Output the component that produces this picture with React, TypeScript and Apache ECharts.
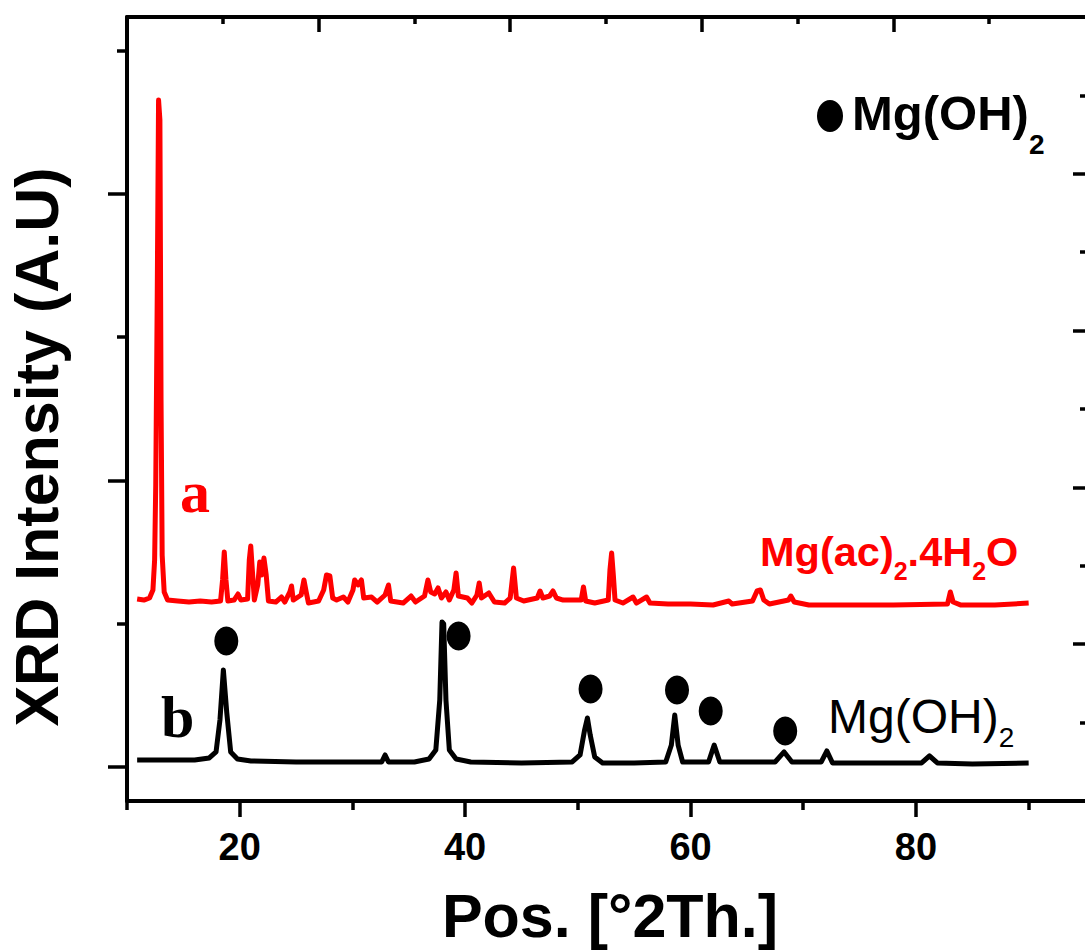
import React, { useEffect, useRef } from "react";
import * as echarts from "echarts";

// ---------- data ----------
const xTicksMajor = [20, 40, 60, 80];
const xTicksMinor = [10, 30, 50, 70, 90];
const yTicksMajor = [0, 2000, 4000];
const yTicksMinor = [1000, 3000, 5000];
const frameTicksMajor = [2, 4, 6, 8];
const frameTicksMinor = [1, 3, 5, 7, 9];

// a : Mg(ac)2.4H2O  [2theta, intensity]
const redPattern: [number, number][] = [
  [10.9, 1172], [11.5, 1165], [12.0, 1179], [12.3, 1235], [12.45, 1444], [12.55, 1968], [12.68, 3258],
  [12.8, 4654], [12.92, 4514], [13.02, 2561], [13.12, 1479], [13.3, 1221], [13.6, 1165], [14.5, 1158],
  [15.5, 1151], [16.5, 1158], [17.5, 1151], [18.3, 1158], [18.48, 1305], [18.63, 1500], [18.78, 1305],
  [18.95, 1158], [19.5, 1165], [19.85, 1207], [20.1, 1165], [20.7, 1172], [20.85, 1444], [20.98, 1542],
  [21.12, 1374], [21.3, 1165], [21.6, 1270], [21.78, 1430], [21.95, 1340], [22.15, 1458], [22.35, 1340],
  [22.55, 1158], [23.2, 1151], [23.7, 1186], [24.0, 1151], [24.45, 1221], [24.6, 1263], [24.75, 1165],
  [25.45, 1200], [25.7, 1305], [25.9, 1221], [26.1, 1144], [27.0, 1158], [27.45, 1235], [27.7, 1340],
  [28.0, 1333], [28.25, 1179], [28.6, 1165], [29.2, 1186], [29.6, 1151], [30.05, 1235], [30.2, 1305],
  [30.5, 1270], [30.8, 1305], [31.0, 1179], [31.7, 1186], [32.2, 1151], [32.9, 1200], [33.2, 1270],
  [33.4, 1158], [34.5, 1144], [35.2, 1193], [35.6, 1151], [36.4, 1193], [36.7, 1305], [36.95, 1221],
  [37.3, 1207], [37.6, 1249], [37.9, 1179], [38.3, 1221], [38.6, 1165], [39.0, 1235], [39.2, 1354],
  [39.4, 1193], [40.2, 1179], [40.6, 1144], [41.05, 1200], [41.25, 1284], [41.45, 1179], [42.1, 1214],
  [42.6, 1151], [43.5, 1144], [44.0, 1179], [44.3, 1388], [44.55, 1179], [45.2, 1158], [46.4, 1179],
  [46.65, 1228], [46.9, 1179], [47.5, 1193], [47.8, 1228], [48.1, 1179], [48.7, 1165], [50.3, 1165],
  [50.5, 1256], [50.7, 1158], [51.5, 1144], [52.7, 1165], [52.85, 1374], [53.0, 1493], [53.15, 1340],
  [53.3, 1165], [54.0, 1144], [54.9, 1186], [55.2, 1144], [56.1, 1186], [56.4, 1144], [58, 1137],
  [60, 1137], [62, 1130], [63.4, 1158], [63.7, 1137], [65.5, 1158], [65.9, 1228], [66.2, 1235],
  [66.5, 1165], [67, 1137], [68.7, 1165], [68.9, 1193], [69.2, 1151], [70.5, 1130], [74, 1130],
  [78, 1130], [82.8, 1137], [83.05, 1221], [83.3, 1151], [84, 1130], [87, 1130], [90, 1144],
];

// b : Mg(OH)2
const blackPattern: [number, number][] = [
  [10.9, 49], [13, 49], [16, 49], [17.3, 63], [17.9, 105], [18.25, 330], [18.55, 677], [18.85, 380],
  [19.2, 105], [19.8, 56], [21, 42], [25, 35], [30, 35], [32.6, 35], [32.9, 84], [33.2, 35], [35.5, 35],
  [36.8, 56], [37.4, 119], [37.75, 467], [37.95, 1012], [38.1, 998], [38.3, 467], [38.6, 119], [39.2, 56],
  [40.5, 35], [45, 28], [49.5, 35], [50.2, 84], [50.6, 258], [50.85, 342], [51.1, 223], [51.5, 70],
  [52.2, 28], [55, 28], [57.8, 35], [58.3, 153], [58.6, 363], [58.9, 153], [59.3, 35], [61.6, 35],
  [62.1, 153], [62.6, 35], [67.5, 35], [68.3, 105], [69.0, 35], [71.6, 35], [72.1, 112], [72.6, 28],
  [80.5, 28], [81.2, 77], [81.9, 28], [85, 21], [90, 28],
];

// filled circles marking the Mg(OH)2 reflections
const peakMarkers: [number, number][] = [
  [18.81, 879], [39.42, 914], [51.13, 544], [58.8, 537], [61.79, 391], [68.4, 251],
];

const SANS = '"Liberation Sans", Arial, Helvetica, sans-serif';
const NARROW = '"Liberation Sans Narrow", "Arial Narrow", "Liberation Sans", Arial, sans-serif';
const SERIF = '"Liberation Serif", "Times New Roman", serif';

function measure(text: string, font: string): number {
  const c = document.createElement("canvas").getContext("2d");
  if (!c) return text.length * 20;
  c.font = font;
  return c.measureText(text).width;
}

type Part = { t: string; sub?: boolean };
function formula(
  parts: Part[], x0: number, baseline: number, size: number, subSize: number, subDrop: number,
  weight: string, color: string
): any[] {
  const els: any[] = [];
  let x = x0;
  for (const p of parts) {
    const fs = p.sub ? subSize : size;
    const b = p.sub ? baseline + subDrop : baseline;
    els.push({
      type: "text",
      x,
      y: b - 0.3465 * fs,
      silent: true,
      style: {
        text: p.t, fill: color, fontSize: fs, fontWeight: weight, fontFamily: SANS,
        textAlign: "left", textVerticalAlign: "middle",
      },
    });
    x += measure(p.t, `${weight} ${fs}px "Liberation Sans"`);
  }
  return els;
}

export default function App() {
  const ref = useRef<HTMLDivElement>(null);
  useEffect(() => {
    if (!ref.current) return;
    const chart = echarts.init(ref.current, undefined, { renderer: "svg" });
    const axisLineStyle = { color: "#000", width: 4 };
    const tickStyle = { color: "#000", width: 3.5 };
    const yMin = -237.2, yMax = 5232.7;

    const graphics: any[] = [
      // y-axis title
      {
        type: "text", x: 37, y: 447, rotation: Math.PI / 2, silent: true,
        style: {
          text: "XRD Intensity (A.U)", fill: "#000", fontSize: 61, fontWeight: "bold",
          fontFamily: SANS, textAlign: "center", textVerticalAlign: "middle",
        },
      },
      // x-axis title
      {
        type: "text", x: 610, y: 937 - 0.3465 * 61, silent: true,
        style: {
          text: "Pos. [°2Th.]", fill: "#000", fontSize: 61, fontWeight: "bold",
          fontFamily: SANS, textAlign: "center", textVerticalAlign: "middle",
        },
      },
      // pattern letters
      {
        type: "text", x: 180, y: 513 - 0.35 * 60, silent: true,
        style: { text: "a", fill: "#ff0000", fontSize: 60, fontWeight: "bold", fontFamily: SERIF, textAlign: "left", textVerticalAlign: "middle" },
      },
      {
        type: "text", x: 161, y: 738 - 0.35 * 60, silent: true,
        style: { text: "b", fill: "#000", fontSize: 60, fontWeight: "bold", fontFamily: SERIF, textAlign: "left", textVerticalAlign: "middle" },
      },
      // legend marker
      { type: "ellipse", shape: { cx: 830, cy: 116, rx: 13, ry: 16 }, style: { fill: "#000" }, silent: true },
      ...formula([{ t: "Mg(OH)" }, { t: "2", sub: true }], 852, 130, 49, 28, 24, "bold", "#000"),
      ...formula(
        [{ t: "Mg(ac)" }, { t: "2", sub: true }, { t: ".4H" }, { t: "2", sub: true }, { t: "O" }],
        760, 566, 41.5, 25, 14, "bold", "#ff0000"
      ),
      ...formula([{ t: "Mg(OH)" }, { t: "2", sub: true }], 828, 733, 48, 28, 14, "normal", "#000"),
    ];

    chart.setOption({
      animation: false,
      backgroundColor: "#fff",
      grid: { left: 127, top: 17, width: 965, height: 784, containLabel: false },
      xAxis: [
        {
          type: "value", position: "bottom", min: 10, max: 95,
          axisLine: { show: true, onZero: false, lineStyle: axisLineStyle },
          axisTick: { show: true, inside: false, length: 16, lineStyle: tickStyle, customValues: xTicksMajor },
          axisLabel: {
            show: true, customValues: xTicksMajor, margin: 27, color: "#000", fontSize: 38,
            fontWeight: "bold", fontFamily: NARROW,
          },
          splitLine: { show: false },
        },
        {
          type: "value", position: "bottom", min: 10, max: 95,
          axisLine: { show: false, onZero: false },
          axisTick: { show: true, inside: false, length: 9, lineStyle: tickStyle, customValues: xTicksMinor },
          axisLabel: { show: false },
          splitLine: { show: false },
        },
        {
          type: "value", position: "top", min: 0, max: 10,
          axisLine: { show: true, onZero: false, lineStyle: axisLineStyle },
          axisTick: { show: true, inside: true, length: 15, lineStyle: tickStyle, customValues: frameTicksMajor },
          axisLabel: { show: false },
          splitLine: { show: false },
        },
        {
          type: "value", position: "top", min: 0, max: 10,
          axisLine: { show: false, onZero: false },
          axisTick: { show: true, inside: true, length: 7, lineStyle: tickStyle, customValues: frameTicksMinor },
          axisLabel: { show: false },
          splitLine: { show: false },
        },
      ],
      yAxis: [
        {
          type: "value", position: "left", min: yMin, max: yMax,
          axisLine: { show: true, onZero: false, lineStyle: axisLineStyle },
          axisTick: { show: true, inside: false, length: 19, lineStyle: tickStyle, customValues: yTicksMajor },
          axisLabel: { show: false },
          splitLine: { show: false },
        },
        {
          type: "value", position: "left", min: yMin, max: yMax,
          axisLine: { show: false, onZero: false },
          axisTick: { show: true, inside: false, length: 10, lineStyle: tickStyle, customValues: yTicksMinor },
          axisLabel: { show: false },
          splitLine: { show: false },
        },
        {
          type: "value", position: "right", min: 0, max: 10,
          axisLine: { show: false, onZero: false },
          axisTick: { show: true, inside: true, length: 12, lineStyle: tickStyle, customValues: frameTicksMajor },
          axisLabel: { show: false },
          splitLine: { show: false },
        },
        {
          type: "value", position: "right", min: 0, max: 10,
          axisLine: { show: false, onZero: false },
          axisTick: { show: true, inside: true, length: 5, lineStyle: tickStyle, customValues: frameTicksMinor },
          axisLabel: { show: false },
          splitLine: { show: false },
        },
      ],
      series: [
        {
          name: "Mg(ac)2.4H2O", type: "line", data: redPattern, xAxisIndex: 0, yAxisIndex: 0,
          showSymbol: false, symbol: "none", lineStyle: { color: "#ff0000", width: 5, join: "round" }, z: 2,
        },
        {
          name: "Mg(OH)2", type: "line", data: blackPattern, xAxisIndex: 0, yAxisIndex: 0,
          showSymbol: false, symbol: "none", lineStyle: { color: "#000", width: 5, join: "round" }, z: 2,
        },
        {
          name: "markers", type: "scatter", data: peakMarkers, xAxisIndex: 0, yAxisIndex: 0,
          symbol: "circle", symbolSize: [24, 29], itemStyle: { color: "#000", opacity: 1 }, z: 3,
        },
      ],
      graphic: graphics,
    });
    return () => chart.dispose();
  }, []);
  return (
    <div
      ref={ref}
      style={{ position: "fixed", left: 0, top: 0, width: 1085, height: 950, background: "#fff" }}
    />
  );
}
